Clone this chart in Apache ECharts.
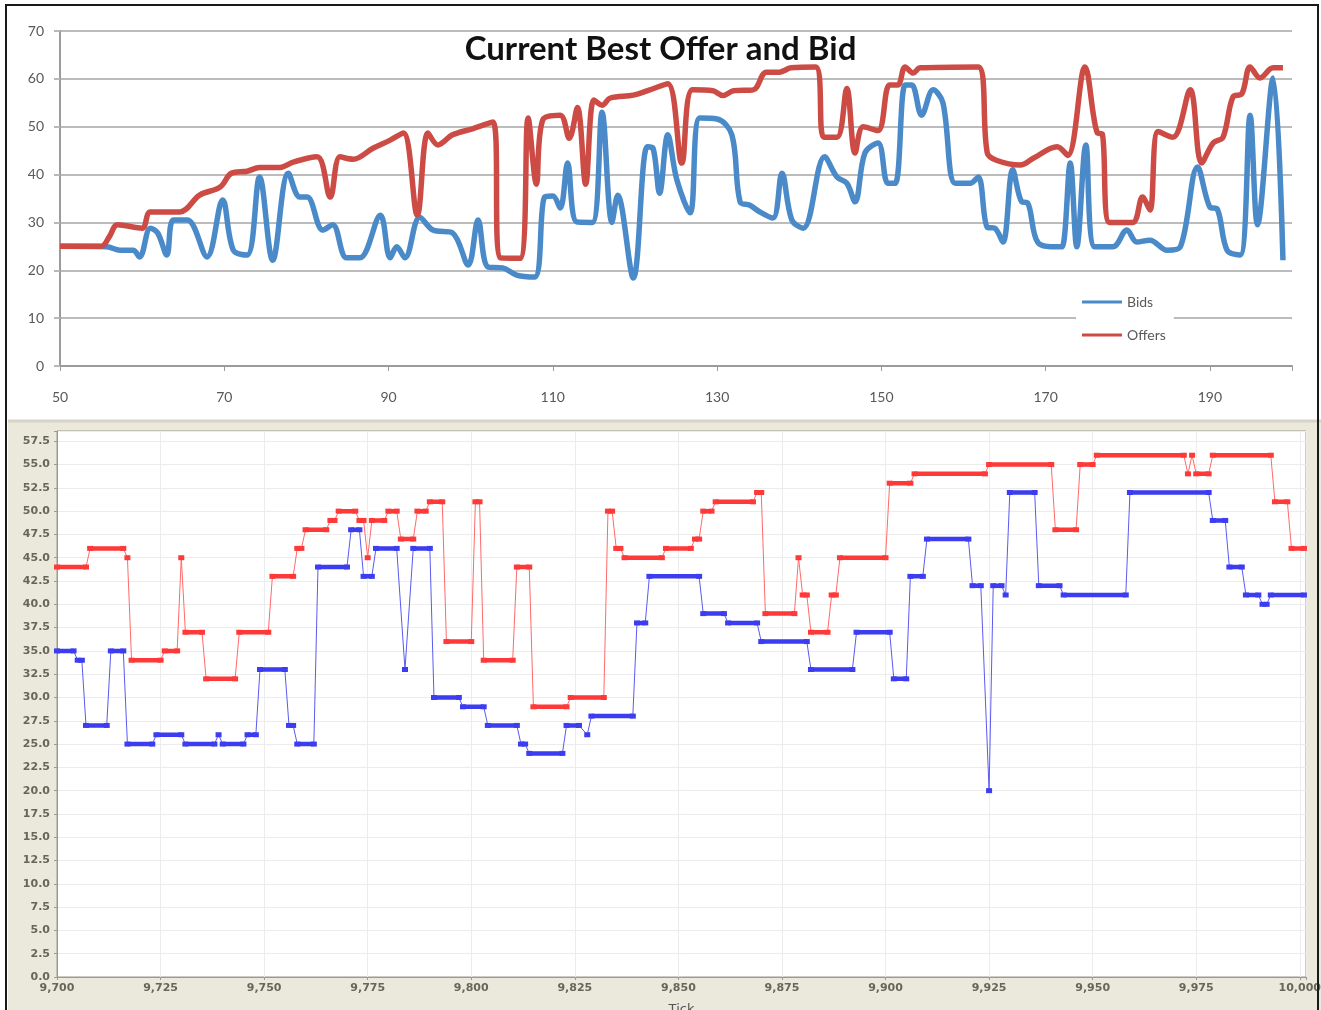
<!DOCTYPE html>
<html>
<head>
<meta charset="utf-8">
<title>Current Best Offer and Bid</title>
<script src="https://cdn.jsdelivr.net/npm/echarts@6.0.0/dist/echarts.min.js"></script>
<style>
  html, body { margin: 0; padding: 0; background: #fff; }
  #main { width: 1321px; height: 1010px; }
</style>
</head>
<body>
<div id="main"></div>
<script>
// top panel (Excel style), [x, price]
var bidsTop = [[50,25],[55.7,24.9],[57.3,24.2],[58.9,24.2],[59.7,22.8],[61,28.8],[61.9,27.8],[63,23.2],[63.8,30.5],[65.5,30.5],[67.9,22.8],[69.8,34.7],[71.1,24.2],[72.8,23.2],[74.3,39.5],[75.9,22.1],[77.8,40.3],[79.2,35.3],[80.1,35.3],[82,28.4],[83.2,29.5],[84.9,22.6],[86.5,22.6],[89,31.5],[90.2,22.6],[91,24.9],[92,22.6],[93.8,31.1],[95.4,28.4],[97.8,27.8],[99.7,21.1],[100.9,30.5],[102.1,20.7],[103.9,20.5],[105.6,19],[107.8,18.6],[109,35.3],[110,35.5],[110.9,33],[111.8,42.4],[112.9,30.1],[114.8,30],[116,53],[117.2,30],[117.9,35.7],[119.8,18.4],[121.5,45.8],[122.2,45.5],[123,36.1],[124,48.3],[125.1,38.9],[126.7,32],[127.9,51.8],[130,51.6],[131.8,48.3],[132.8,34.3],[134,33.6],[135.2,32.2],[136.8,30.9],[137.9,40.3],[139.1,30.5],[140.5,28.8],[143.1,43.7],[144.6,39.5],[145.8,38.2],[146.8,34.3],[148,44.5],[149.6,46.6],[150.8,38.2],[151.7,38.2],[152.9,58.7],[153.7,58.7],[154.9,52.4],[156.3,57.7],[157.5,55],[159,38.2],[160.8,38.2],[161.8,39.5],[162.9,29],[163.8,28.8],[164.8,25.9],[166,41],[167.1,34.3],[167.8,34.1],[169.1,25.7],[171.4,24.9],[172,24.9],[173,42.4],[173.8,24.9],[174.9,46.2],[176,24.9],[178.2,24.9],[179.9,28.4],[181.1,25.9],[182.7,26.3],[184.8,24.2],[186.4,24.9],[188.5,41.6],[190,33.2],[190.9,32.8],[192.1,24.2],[193.7,23.2],[194.9,52.4],[195.8,29.5],[197.7,60.2],[198.9,22.1]];

var offersTop = [[50,25],[55,25],[56,27],[57,29.5],[60,28.8],[61,32.2],[64.6,32.2],[67,35.7],[69.5,37.4],[70.9,40.3],[72.8,40.7],[74.3,41.5],[76.8,41.5],[78.4,42.6],[81.3,43.7],[82.9,35.3],[84.1,43.7],[85.7,43.2],[88.1,45.5],[90.2,47.2],[91.8,48.7],[93.5,31.5],[94.8,48.7],[96,46.2],[97.8,48.3],[100.3,49.6],[102.7,51],[103.6,22.6],[106,22.5],[107,51.8],[108,38],[108.8,51.5],[110.9,52.4],[112,47.6],[113,54],[114,38],[115,55.6],[116,54.5],[117,56],[119.8,56.6],[121.8,57.7],[124,59],[125.7,42.4],[127,57.7],[129.5,57.5],[130.7,56.5],[132,57.5],[134.4,57.7],[136,61.4],[137.6,61.4],[139,62.3],[142,62.5],[143,47.8],[144.6,47.8],[145.8,58],[146.8,44.5],[147.8,50],[149.6,49.2],[151,58.7],[152,58.7],[152.9,62.5],[153.9,61.2],[154.7,62.3],[161.8,62.5],[162.9,44.5],[164,43],[166.9,42],[168.5,43.4],[171.4,45.8],[172.7,44],[174.8,62.5],[176.3,48.7],[176.9,48.5],[177.8,30],[180.6,30],[181.8,35.3],[182.7,32.6],[183.7,49],[185.5,47.8],[187.6,57.7],[189,42.4],[190.4,46.6],[191.6,47.8],[192.8,56.2],[193.9,56.9],[194.9,62.5],[196.1,60.2],[197.7,62.3],[198.9,62.3]];

// bottom panel (stepped), [fromTick, toTick, price]
var bidsBottom = [[9700,9704,35],[9705,9706,34],[9707,9712,27],[9713,9716,35],[9717,9723,25],[9724,9730,26],[9731,9738,25],[9739,9739,26],[9740,9745,25],[9746,9748,26],[9749,9755,33],[9756,9757,27],[9758,9762,25],[9763,9770,44],[9771,9773,48],[9774,9776,43],[9777,9782,46],[9784,9784,33],[9786,9790,46],[9791,9797,30],[9798,9803,29],[9804,9811,27],[9812,9813,25],[9814,9822,24],[9823,9826,27],[9828,9828,26],[9829,9839,28],[9840,9842,38],[9843,9855,43],[9856,9861,39],[9862,9869,38],[9870,9881,36],[9882,9892,33],[9893,9901,37],[9902,9905,32],[9906,9909,43],[9910,9920,47],[9921,9923,42],[9925,9925,20],[9926,9928,42],[9929,9929,41],[9930,9936,52],[9937,9942,42],[9943,9958,41],[9959,9978,52],[9979,9982,49],[9983,9986,44],[9987,9990,41],[9991,9992,40],[9993,10001,41]];

var offersBottom = [[9700,9707,44],[9708,9716,46],[9717,9717,45],[9718,9725,34],[9726,9729,35],[9730,9730,45],[9731,9735,37],[9736,9743,32],[9744,9751,37],[9752,9757,43],[9758,9759,46],[9760,9765,48],[9766,9767,49],[9768,9772,50],[9773,9774,49],[9775,9775,45],[9776,9779,49],[9780,9782,50],[9783,9786,47],[9787,9789,50],[9790,9793,51],[9794,9800,36],[9801,9802,51],[9803,9810,34],[9811,9814,44],[9815,9823,29],[9824,9832,30],[9833,9834,50],[9835,9836,46],[9837,9846,45],[9847,9853,46],[9854,9855,47],[9856,9858,50],[9859,9868,51],[9869,9870,52],[9871,9878,39],[9879,9879,45],[9880,9881,41],[9882,9886,37],[9887,9888,41],[9889,9900,45],[9901,9906,53],[9907,9924,54],[9925,9940,55],[9941,9946,48],[9947,9950,55],[9951,9972,56],[9973,9973,54],[9974,9974,56],[9975,9978,54],[9979,9993,56],[9994,9997,51],[9998,10001,46]];

var topTitle = 'Current Best Offer and Bid';
var legendNames = ['Bids', 'Offers'];

// thin connector through every level
function stepLine(segs) {
  var out = [];
  segs.forEach(function (s) {
    out.push([s[0], s[2]]);
    if (s[1] !== s[0]) out.push([s[1], s[2]]);
  });
  return out;
}
// thick flat parts only, broken between levels
function stepBars(segs) {
  var out = [];
  segs.forEach(function (s) {
    out.push([s[0], s[2]]);
    if (s[1] !== s[0]) out.push([s[1], s[2]]);
    out.push([s[1], null]);
  });
  return out;
}

var chart = echarts.init(document.getElementById('main'));

var smallLbl = { fontSize: 11, fontWeight: 'bold', color: '#66665a', fontFamily: 'DejaVu Sans' };

var option = {
  animation: false,
  backgroundColor: '#ffffff',
  graphic: [
    { type: 'rect', z: -10, shape: { x: 8, y: 421, width: 1313, height: 589 }, style: { fill: '#ebe9dc' } },
    { type: 'line', z: -9, shape: { x1: 8, y1: 421, x2: 1321, y2: 421 }, style: { stroke: '#d6d4c8', lineWidth: 3 } },
    { type: 'rect', z: 100, shape: { x: 6, y: 5, width: 1312, height: 1010 }, style: { fill: 'none', stroke: '#1a1a1a', lineWidth: 2 } }
  ],
  title: {
    text: topTitle,
    left: 'center',
    top: 28,
    textStyle: { fontSize: 33, fontWeight: 'bold', color: '#111', fontFamily: 'Lato' }
  },
  legend: {
    data: legendNames,
    orient: 'vertical',
    left: 1076,
    top: 291,
    backgroundColor: '#ffffff',
    padding: [4, 8, 4, 6],
    itemGap: 19,
    itemWidth: 40,
    itemHeight: 3,
    icon: 'rect',
    textStyle: { fontSize: 14, color: '#595959', fontFamily: 'Lato' }
  },
  grid: [
    { left: 60, right: 29, top: 31, height: 335, outerBoundsMode: 'none' },
    { left: 57, right: 15, top: 431, bottom: 33, outerBoundsMode: 'none', show: true, backgroundColor: '#ffffff', borderColor: '#9a9a90', borderWidth: 1 }
  ],
  xAxis: [
    {
      type: 'value', gridIndex: 0, min: 50, max: 200, interval: 20,
      axisLine: { show: true, lineStyle: { color: '#9b9b9b', width: 2 } },
      axisTick: { show: true, length: 5, lineStyle: { color: '#9b9b9b' } },
      axisLabel: {
        margin: 24, fontSize: 14, color: '#595959', fontFamily: 'Lato',
        formatter: function (v) { return v < 200 ? String(v) : ''; }
      },
      splitLine: { show: false }
    },
    {
      type: 'value', gridIndex: 1, min: 9700, max: 10001.5, interval: 25,
      name: 'Tick', nameLocation: 'middle', nameGap: 26,
      nameTextStyle: { fontSize: 13, color: '#555', fontFamily: 'DejaVu Sans' },
      axisLine: { show: true, lineStyle: { color: '#9a9a90' } },
      axisTick: { show: true, length: 3, lineStyle: { color: '#9a9a90' } },
      axisLabel: Object.assign({ margin: 6, formatter: function (v) { return v % 25 === 0 ? v.toLocaleString('en-US') : ''; } }, smallLbl),
      splitLine: { show: true, lineStyle: { color: '#ececec' } }
    }
  ],
  yAxis: [
    {
      type: 'value', gridIndex: 0, min: 0, max: 70, interval: 10,
      axisLine: { show: true, lineStyle: { color: '#9b9b9b', width: 2 } },
      axisTick: { show: true, length: 6, lineStyle: { color: '#b8b8b8', width: 2 } },
      axisLabel: { margin: 16, fontSize: 14, color: '#595959', fontFamily: 'Lato' },
      splitLine: { show: true, lineStyle: { color: '#bcbcbc', width: 2 } }
    },
    {
      type: 'value', gridIndex: 1, min: 0, max: 58.6, interval: 2.5,
      axisLine: { show: true, lineStyle: { color: '#9a9a90' } },
      axisTick: { show: true, length: 3, lineStyle: { color: '#9a9a90' } },
      axisLabel: Object.assign({
        margin: 7,
        formatter: function (v) { return Math.abs(v / 2.5 - Math.round(v / 2.5)) < 1e-6 ? v.toFixed(1) : ''; }
      }, smallLbl),
      splitLine: { show: true, lineStyle: { color: '#ececec' } }
    }
  ],
  series: [
    {
      name: 'Bids', type: 'line', xAxisIndex: 0, yAxisIndex: 0,
      data: bidsTop, smooth: 0.35, showSymbol: false,
      itemStyle: { color: '#4a8ac9' },
      lineStyle: { color: '#4a8ac9', width: 5.5 }
    },
    {
      name: 'Offers', type: 'line', xAxisIndex: 0, yAxisIndex: 0,
      data: offersTop, smooth: 0.35, showSymbol: false,
      itemStyle: { color: '#cc4b45' },
      lineStyle: { color: '#cc4b45', width: 5.5 }
    },
    {
      name: 'bidStep', type: 'line', xAxisIndex: 1, yAxisIndex: 1,
      data: stepLine(bidsBottom), showSymbol: false,
      lineStyle: { color: '#5a5af0', width: 1 }
    },
    {
      name: 'bidFlat', type: 'line', xAxisIndex: 1, yAxisIndex: 1,
      data: stepBars(bidsBottom), connectNulls: false,
      symbol: 'rect', symbolSize: [6, 5], showSymbol: true, showAllSymbol: true,
      itemStyle: { color: '#3c3cf0' },
      lineStyle: { color: '#3c3cf0', width: 4.5 }
    },
    {
      name: 'offerStep', type: 'line', xAxisIndex: 1, yAxisIndex: 1,
      data: stepLine(offersBottom), showSymbol: false,
      lineStyle: { color: '#ff6a6a', width: 1 }
    },
    {
      name: 'offerFlat', type: 'line', xAxisIndex: 1, yAxisIndex: 1,
      data: stepBars(offersBottom), connectNulls: false,
      symbol: 'rect', symbolSize: [6, 5], showSymbol: true, showAllSymbol: true,
      itemStyle: { color: '#ff3838' },
      lineStyle: { color: '#ff3838', width: 4.5 }
    }
  ]
};

chart.setOption(option);
</script>
</body>
</html>
